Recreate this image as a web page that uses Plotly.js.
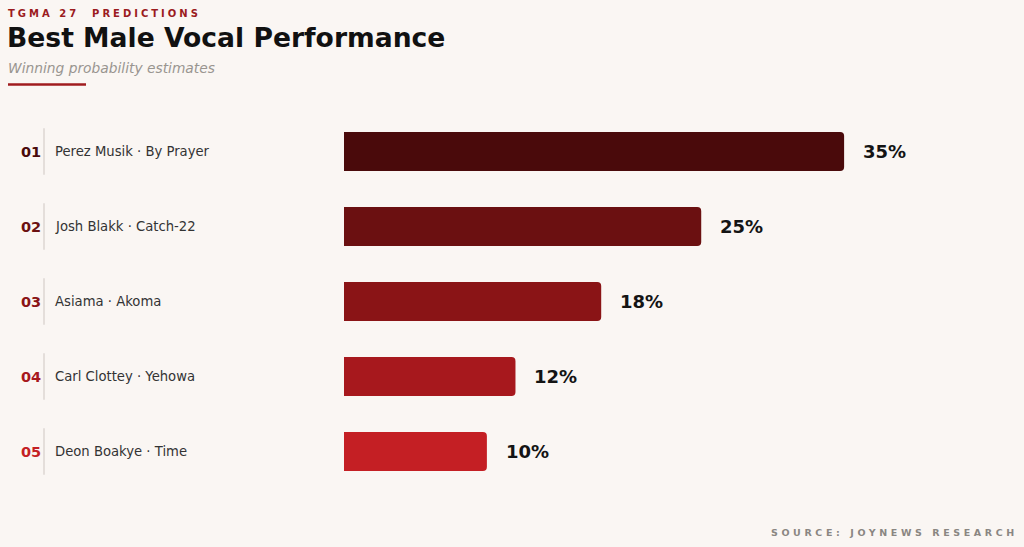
<!DOCTYPE html>
<html>
<head>
<meta charset="utf-8">
<script src="https://cdn.plot.ly/plotly-3.0.1.min.js"></script>
<style>
html,body{margin:0;padding:0;background:#faf6f3;}
#chart{width:1024px;height:547px;}
</style>
</head>
<body>
<div id="chart"></div>
<script>
// ---- data ----
const ranks = ["01", "02", "03", "04", "05"];
const artists = ["Perez Musik", "Josh Blakk", "Asiama", "Carl Clottey", "Deon Boakye"];
const songs = ["By Prayer", "Catch-22", "Akoma", "Yehowa", "Time"];
const probabilities = [35, 25, 18, 12, 10];
const barColors = ["#4a0a0b", "#6b1011", "#8a1416", "#a7181d", "#c41f24"];

// ---- layout geometry ----
const W = 1024, H = 547;
const mL = 344, mR = 37, mT = 113.5, mB = 57.5;
const pw = W - mL - mR, ph = H - mT - mB;
const px = x => (x - mL) / pw;          // page px -> paper x
const py = y => (H - mB - y) / ph;      // page px -> paper y

const font = "DejaVu Sans, Verdana, sans-serif";
const labels = artists.map((a, i) => a + " · " + songs[i]);

const trace = {
  type: "bar",
  orientation: "h",
  x: probabilities,
  y: labels,
  width: 0.52,
  marker: { color: barColors, cornerradius: 4, line: { width: 0 } },
  hoverinfo: "none"
};

const annotations = [];
const shapes = [];

labels.forEach((lab, i) => {
  annotations.push({
    xref: "paper", yref: "y", x: px(43), y: lab, xanchor: "right", yanchor: "middle",
    text: "<b>" + ranks[i] + "</b>", showarrow: false,
    font: { family: font, size: 14.5, color: barColors[i] }
  });
  annotations.push({
    xref: "paper", yref: "y", x: px(53), y: lab, xanchor: "left", yanchor: "middle",
    text: lab, showarrow: false,
    font: { family: font, size: 13.2, color: "#333333" }
  });
  annotations.push({
    xref: "x", yref: "y", x: probabilities[i], y: lab, xanchor: "left", yanchor: "middle",
    xshift: 17, text: "<b>" + probabilities[i] + "%</b>", showarrow: false,
    font: { family: font, size: 18, color: "#141414" }
  });
  shapes.push({
    type: "line", xref: "paper", yref: "y", x0: px(44), x1: px(44),
    y0: i - 0.31, y1: i + 0.31,
    line: { color: "#dcd6d2", width: 1.5 }
  });
});

// header
annotations.push({
  xref: "paper", yref: "paper", x: px(6), y: py(13), xanchor: "left", yanchor: "middle",
  text: '<span style="letter-spacing:3px"><b>TGMA 27  PREDICTIONS</b></span>', showarrow: false,
  font: { family: font, size: 10, color: "#9b1b1e" }
});
annotations.push({
  xref: "paper", yref: "paper", x: px(5), y: py(37), xanchor: "left", yanchor: "middle",
  text: "<b>Best Male Vocal Performance</b>", showarrow: false,
  font: { family: font, size: 26.6, color: "#111111" }
});
annotations.push({
  xref: "paper", yref: "paper", x: px(6), y: py(67), xanchor: "left", yanchor: "middle",
  text: "<i>Winning probability estimates</i>", showarrow: false,
  font: { family: font, size: 13.8, color: "#999590" }
});
annotations.push({
  xref: "paper", yref: "paper", x: px(1020), y: py(533), xanchor: "right", yanchor: "middle",
  text: '<span style="letter-spacing:3.6px"><b>SOURCE: JOYNEWS RESEARCH</b></span>', showarrow: false,
  font: { family: font, size: 9.5, color: "#8a8682" }
});
shapes.push({
  type: "line", xref: "paper", yref: "paper", x0: px(8), x1: px(86), y0: py(84), y1: py(84),
  line: { color: "#a01c1f", width: 2.5 }
});

const layout = {
  width: W, height: H, autosize: false,
  margin: { l: mL, r: mR, t: mT, b: mB, pad: 0 },
  paper_bgcolor: "#faf6f3", plot_bgcolor: "#faf6f3",
  showlegend: false,
  xaxis: { range: [0, 45], visible: false, fixedrange: true },
  yaxis: { type: "category", autorange: "reversed", visible: false, fixedrange: true, range: [4.5, -0.5] },
  annotations: annotations,
  shapes: shapes,
  bargap: 0.48
};

Plotly.newPlot("chart", [trace], layout, { displayModeBar: false, staticPlot: true });
</script>
</body>
</html>
